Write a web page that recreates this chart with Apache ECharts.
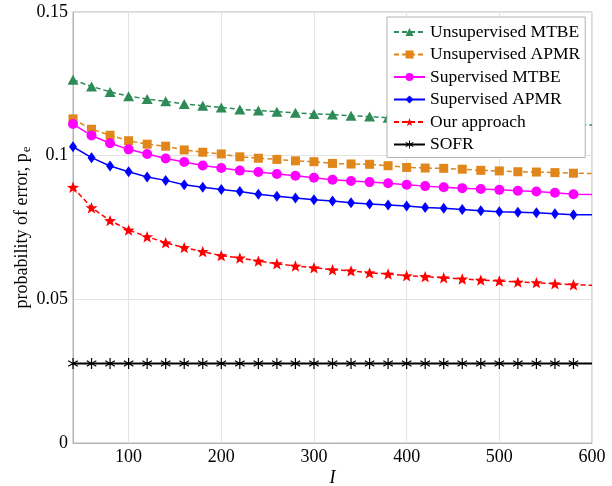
<!DOCTYPE html>
<html>
<head>
<meta charset="utf-8">
<script src="https://cdn.jsdelivr.net/npm/echarts@6/dist/echarts.min.js"></script>
<style>
  html, body { margin: 0; padding: 0; background: #fff; }
  #chart { width: 612px; height: 486px; }
</style>
</head>
<body>
<div id="chart"></div>
<script>
// Number of training samples I (every 20 from 40 to 600)
const sampleSizes = [40, 60, 80, 100, 120, 140, 160, 180, 200, 220, 240, 260, 280, 300, 320,
  340, 360, 380, 400, 420, 440, 460, 480, 500, 520, 540, 560, 580, 600];

const unsupervisedMTBE = [0.1264, 0.1241, 0.1222, 0.1207, 0.1197, 0.1189, 0.1180, 0.1174, 0.1168, 0.1161,
  0.1157, 0.1153, 0.1149, 0.1145, 0.1143, 0.1139, 0.1136, 0.1132, 0.1129, 0.1126,
  0.1123, 0.1120, 0.1118, 0.1115, 0.1113, 0.1111, 0.1109, 0.1108, 0.1107];
const unsupervisedAPMR = [0.1128, 0.1092, 0.1071, 0.1052, 0.1040, 0.1033, 0.1020, 0.1012, 0.1006, 0.0996,
  0.0991, 0.0987, 0.0982, 0.0979, 0.0973, 0.0971, 0.0970, 0.0965, 0.0959, 0.0957,
  0.0956, 0.0953, 0.0949, 0.0947, 0.0944, 0.0943, 0.0941, 0.0939, 0.0938];
const supervisedMTBE = [0.1110, 0.1070, 0.1043, 0.1022, 0.1006, 0.0990, 0.0978, 0.0966, 0.0957, 0.0948,
  0.0943, 0.0936, 0.0930, 0.0923, 0.0916, 0.0912, 0.0908, 0.0904, 0.0899, 0.0894,
  0.0890, 0.0887, 0.0884, 0.0881, 0.0878, 0.0875, 0.0871, 0.0866, 0.0865];
const supervisedAPMR = [0.1031, 0.0993, 0.0964, 0.0944, 0.0926, 0.0914, 0.0899, 0.0890, 0.0882, 0.0875,
  0.0866, 0.0859, 0.0853, 0.0847, 0.0842, 0.0836, 0.0832, 0.0828, 0.0825, 0.0820,
  0.0817, 0.0813, 0.0808, 0.0805, 0.0803, 0.0801, 0.0798, 0.0794, 0.0794];
const ourApproach = [0.0890, 0.0819, 0.0774, 0.0741, 0.0718, 0.0697, 0.0680, 0.0666, 0.0652, 0.0644,
  0.0633, 0.0624, 0.0616, 0.0610, 0.0603, 0.0599, 0.0592, 0.0588, 0.0582, 0.0579,
  0.0575, 0.0571, 0.0567, 0.0564, 0.0560, 0.0558, 0.0554, 0.0551, 0.0549];
const sofr = [0.0277, 0.0277, 0.0277, 0.0277, 0.0277, 0.0277, 0.0277, 0.0277, 0.0277, 0.0277,
  0.0277, 0.0277, 0.0277, 0.0277, 0.0277, 0.0277, 0.0277, 0.0277, 0.0277, 0.0277,
  0.0277, 0.0277, 0.0277, 0.0277, 0.0277, 0.0277, 0.0277, 0.0277, 0.0277];

const xTicks = [100, 200, 300, 400, 500, 600];

const SERIF = '"Liberation Serif", "Times New Roman", serif';
const FONT_SIZE = 18;
const STAR = 'path://M50 0 L62.35 33 L97.55 34.55 L69.95 56.5 L79.4 90.45 L50 71 L20.6 90.45 L30.05 56.5 L2.45 34.55 L37.65 33 Z';
const ASTERISK = 'path://M44.5 0 L55.5 0 L55.5 100 L44.5 100 Z M90.55 20.25 L96.05 29.75 L9.45 79.75 L3.95 70.25 Z M96.05 70.25 L90.55 79.75 L3.95 29.75 L9.45 20.25 Z';

// pair x with y; the end point at I = 600 carries the line only
function points(values) {
  return sampleSizes.map((x, i) => {
    const p = { value: [x, values[i]] };
    if (x === 600) p.symbol = 'none';
    return p;
  });
}

function lineSeries(name, values, color, dashed, symbol, size, width) {
  return {
    name: name,
    type: 'line',
    data: points(values),
    symbol: symbol,
    symbolSize: size,
    symbolKeepAspect: true,
    showAllSymbol: true,
    lineStyle: { color: color, width: width || 1.5, type: dashed ? [5, 3] : 'solid' },
    itemStyle: { color: color, borderWidth: 0 },
    emphasis: { disabled: true },
    animation: false
  };
}

const chart = echarts.init(document.getElementById('chart'), null, { renderer: 'canvas' });
chart.setOption({
  backgroundColor: '#ffffff',
  textStyle: { fontFamily: SERIF },
  grid: {
    left: 73, right: 20, top: 12, bottom: 43,
    outerBoundsMode: 'none',
    containLabel: false,
    show: true, borderColor: '#b4b4b4', borderWidth: 1
  },
  legend: {
    left: 387, top: 17,
    orient: 'vertical',
    backgroundColor: '#ffffff',
    borderColor: '#b4b4b4', borderWidth: 1,
    padding: [6, 5, 4, 6],
    itemWidth: 31, itemHeight: 10, itemGap: 4.5,
    textStyle: { fontFamily: SERIF, fontSize: 17.5, color: '#000', padding: [0, 0, 0, 0] },
    data: ['Unsupervised MTBE', 'Unsupervised APMR', 'Supervised MTBE', 'Supervised APMR', 'Our approach', 'SOFR']
  },
  xAxis: {
    type: 'value',
    min: 40, max: 600,
    name: 'I',
    nameLocation: 'middle',
    nameGap: 26,
    nameMoveOverlap: false,
    nameTextStyle: { fontFamily: SERIF, fontSize: FONT_SIZE, fontStyle: 'italic', color: '#000' },
    axisLine: { show: true, lineStyle: { color: '#b4b4b4' } },
    axisTick: { show: false, customValues: xTicks },
    axisLabel: { customValues: xTicks, fontFamily: SERIF, fontSize: FONT_SIZE, color: '#000', margin: 5 },
    splitLine: { show: true, lineStyle: { color: '#e3e3e3', width: 1 } }
  },
  yAxis: {
    type: 'value',
    min: 0, max: 0.15, interval: 0.05,
    name: '{a|probability of error, p}{s|e}',
    nameLocation: 'middle',
    nameGap: 40,
    nameMoveOverlap: false,
    nameRotate: 90,
    nameTextStyle: {
      color: '#000',
      rich: {
        a: { fontFamily: SERIF, fontSize: FONT_SIZE, color: '#000', lineHeight: 22 },
        s: { fontFamily: SERIF, fontSize: 13, color: '#000', lineHeight: 22, verticalAlign: 'bottom', padding: [6, 0, 0, 1] }
      }
    },
    axisLine: { show: true, lineStyle: { color: '#b4b4b4' } },
    axisTick: { show: false },
    axisLabel: { fontFamily: SERIF, fontSize: FONT_SIZE, color: '#000', margin: 5 },
    splitLine: { show: true, lineStyle: { color: '#e3e3e3', width: 1 } }
  },
  series: [
    lineSeries('Unsupervised MTBE', unsupervisedMTBE, '#2e8b57', true, 'triangle', [11, 10]),
    lineSeries('Unsupervised APMR', unsupervisedAPMR, '#e0861a', true, 'rect', 9),
    lineSeries('Supervised MTBE', supervisedMTBE, '#ff00ff', false, 'circle', 10),
    lineSeries('Supervised APMR', supervisedAPMR, '#0000ff', false, 'diamond', [8, 11]),
    lineSeries('Our approach', ourApproach, '#ff0000', true, STAR, 12),
    lineSeries('SOFR', sofr, '#000000', false, ASTERISK, 11, 2)
  ]
});
</script>
</body>
</html>
